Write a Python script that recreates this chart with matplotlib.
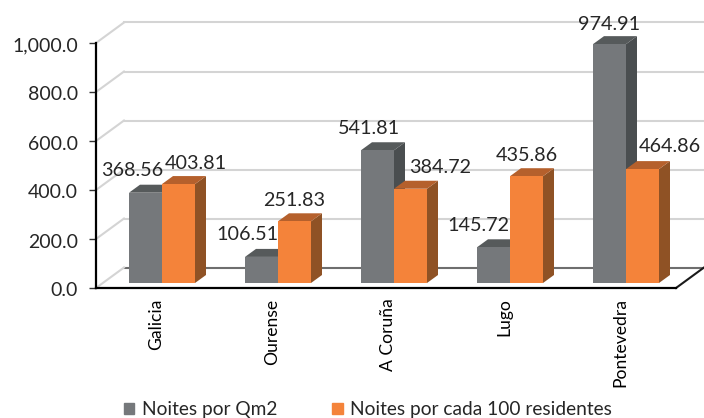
""" plot.py """

import matplotlib
matplotlib.use("Agg")
import matplotlib.pyplot as plt
from matplotlib.patches import Patch, Polygon
from matplotlib.transforms import ScaledTranslation

plt.rcParams['font.family'] = ['Lato', 'DejaVu Sans']

categories = ["Galicia", "Ourense", "A Coruña", "Lugo", "Pontevedra"]
noites_qm2 = [368.56, 106.51, 541.81, 145.72, 974.91]
noites_100 = [403.81, 251.83, 384.72, 435.86, 464.86]
y_ticks = [0, 200, 400, 600, 800, 1000]

W, H = 704, 418
LEFT, RIGHT, TOP, BOTTOM = 96, 676, 43, 288
# size of one pixel in data units
DX = 5.0 / (RIGHT - LEFT)
DY = 1000.0 / (BOTTOM - TOP)

GRAY = ("#75787B", "#565A5B", "#4A4E50")
ORANGE = ("#F4833A", "#B5602C", "#8F5225")
TEXT = "#262626"

fig = plt.figure(figsize=(W / 100, H / 100), dpi=100)
ax = fig.add_axes([LEFT / W, 1 - BOTTOM / H, (RIGHT - LEFT) / W, (BOTTOM - TOP) / H])
ax.set_xlim(-0.5, 4.5)
ax.set_ylim(0, 1000)


def bar3d(x, value, colors, width=33):
  # front face plus top and side faces, pushed back a little from the axis
  x0 = x + 8 * DX
  x1 = x0 + width * DX
  y0 = 5 * DY
  y1 = y0 + value
  dx, dy = 11 * DX, 8 * DY
  ax.add_patch(Polygon([(x1, y0), (x1 + dx, y0 + dy), (x1 + dx, y1 + dy), (x1, y1)],
                       fc=colors[2], ec="none", clip_on=False, zorder=3))
  ax.add_patch(Polygon([(x0, y1), (x0 + dx, y1 + dy), (x1 + dx, y1 + dy), (x1, y1)],
                       fc=colors[1], ec="none", clip_on=False, zorder=3))
  ax.bar(x0, value, width=width * DX, bottom=y0, align="edge", color=colors[0], clip_on=False, zorder=3)


# back wall gridlines and their slanted side parts
back_x = 28 * DX
back_y = 20.5 * DY
for v in y_ticks:
  color = "#6E6E6E" if v == 0 else "#D4D4D4"
  ax.plot([-0.5 + back_x, 4.5 + back_x], [v + back_y, v + back_y], color=color, lw=1.5, clip_on=False, zorder=1)
  ax.plot([-0.5, -0.5 + back_x], [v, v + back_y], color="#D4D4D4", lw=1.5, clip_on=False, zorder=1)

# floor edge on the right
ax.plot([4.5, 4.5 + back_x], [0, back_y], color="#1A1A1A", lw=1.5, clip_on=False, zorder=2)

for i in range(len(categories)):
  x = i - 0.5 + 25 * DX
  bar3d(x, noites_qm2[i], GRAY)
  bar3d(x + 33 * DX, noites_100[i], ORANGE)

# label shifts from the top of each front bar centre, in pixels
shift_qm2 = [(-13, 22), (-14, 22), (-9, 22), (-15, 22), (0, 20)]
shift_100 = [(17, 21), (0, 21), (30, 21), (0, 21), (27, 23)]
for i in range(len(categories)):
  x = i - 0.5 + 25 * DX + 8 * DX
  for xc, vals, shift in ((x + 16.5 * DX, noites_qm2, shift_qm2), (x + 49.5 * DX, noites_100, shift_100)):
    ax.annotate(f"{vals[i]:.2f}", xy=(xc, vals[i] + 5 * DY), xytext=shift[i], textcoords="offset pixels",
                ha="center", va="center", fontsize=14.2, color=TEXT, zorder=5, annotation_clip=False)

for side in ("top", "right"):
  ax.spines[side].set_visible(False)
ax.spines["left"].set_linewidth(1.6)
ax.spines["bottom"].set_linewidth(1.6)
ax.spines["left"].set_zorder(4)
ax.spines["bottom"].set_zorder(4)

ax.set_yticks(y_ticks)
ax.set_yticklabels([f"{v:,.1f}" for v in y_ticks], fontsize=14, color=TEXT)
ax.tick_params(axis="y", length=5, width=1, color="#333333", pad=8)
for lbl in ax.get_yticklabels():
  lbl.set_transform(lbl.get_transform() + ScaledTranslation(0, -1.5 / 100, fig.dpi_scale_trans))

# tick labels sit under the pair of bars, a bit left of the middle of each front pair
ax.set_xticks([i - 0.5 + 60 * DX for i in range(len(categories))])
ax.set_xticklabels(categories, rotation=90, fontsize=12.6, color="black")
ax.tick_params(axis="x", length=0, pad=7.5)

handles = [Patch(color=GRAY[0], label="Noites por Qm2"), Patch(color=ORANGE[0], label="Noites por cada 100 residentes")]
fig.legend(handles=handles, ncol=2, loc="center", bbox_to_anchor=(368 / W, 1 - 410 / H), frameon=False,
           fontsize=13.8, labelcolor=TEXT, handlelength=0.55, handleheight=0.55, handletextpad=0.4, columnspacing=2.85)

fig.savefig("out.png", dpi=100)
